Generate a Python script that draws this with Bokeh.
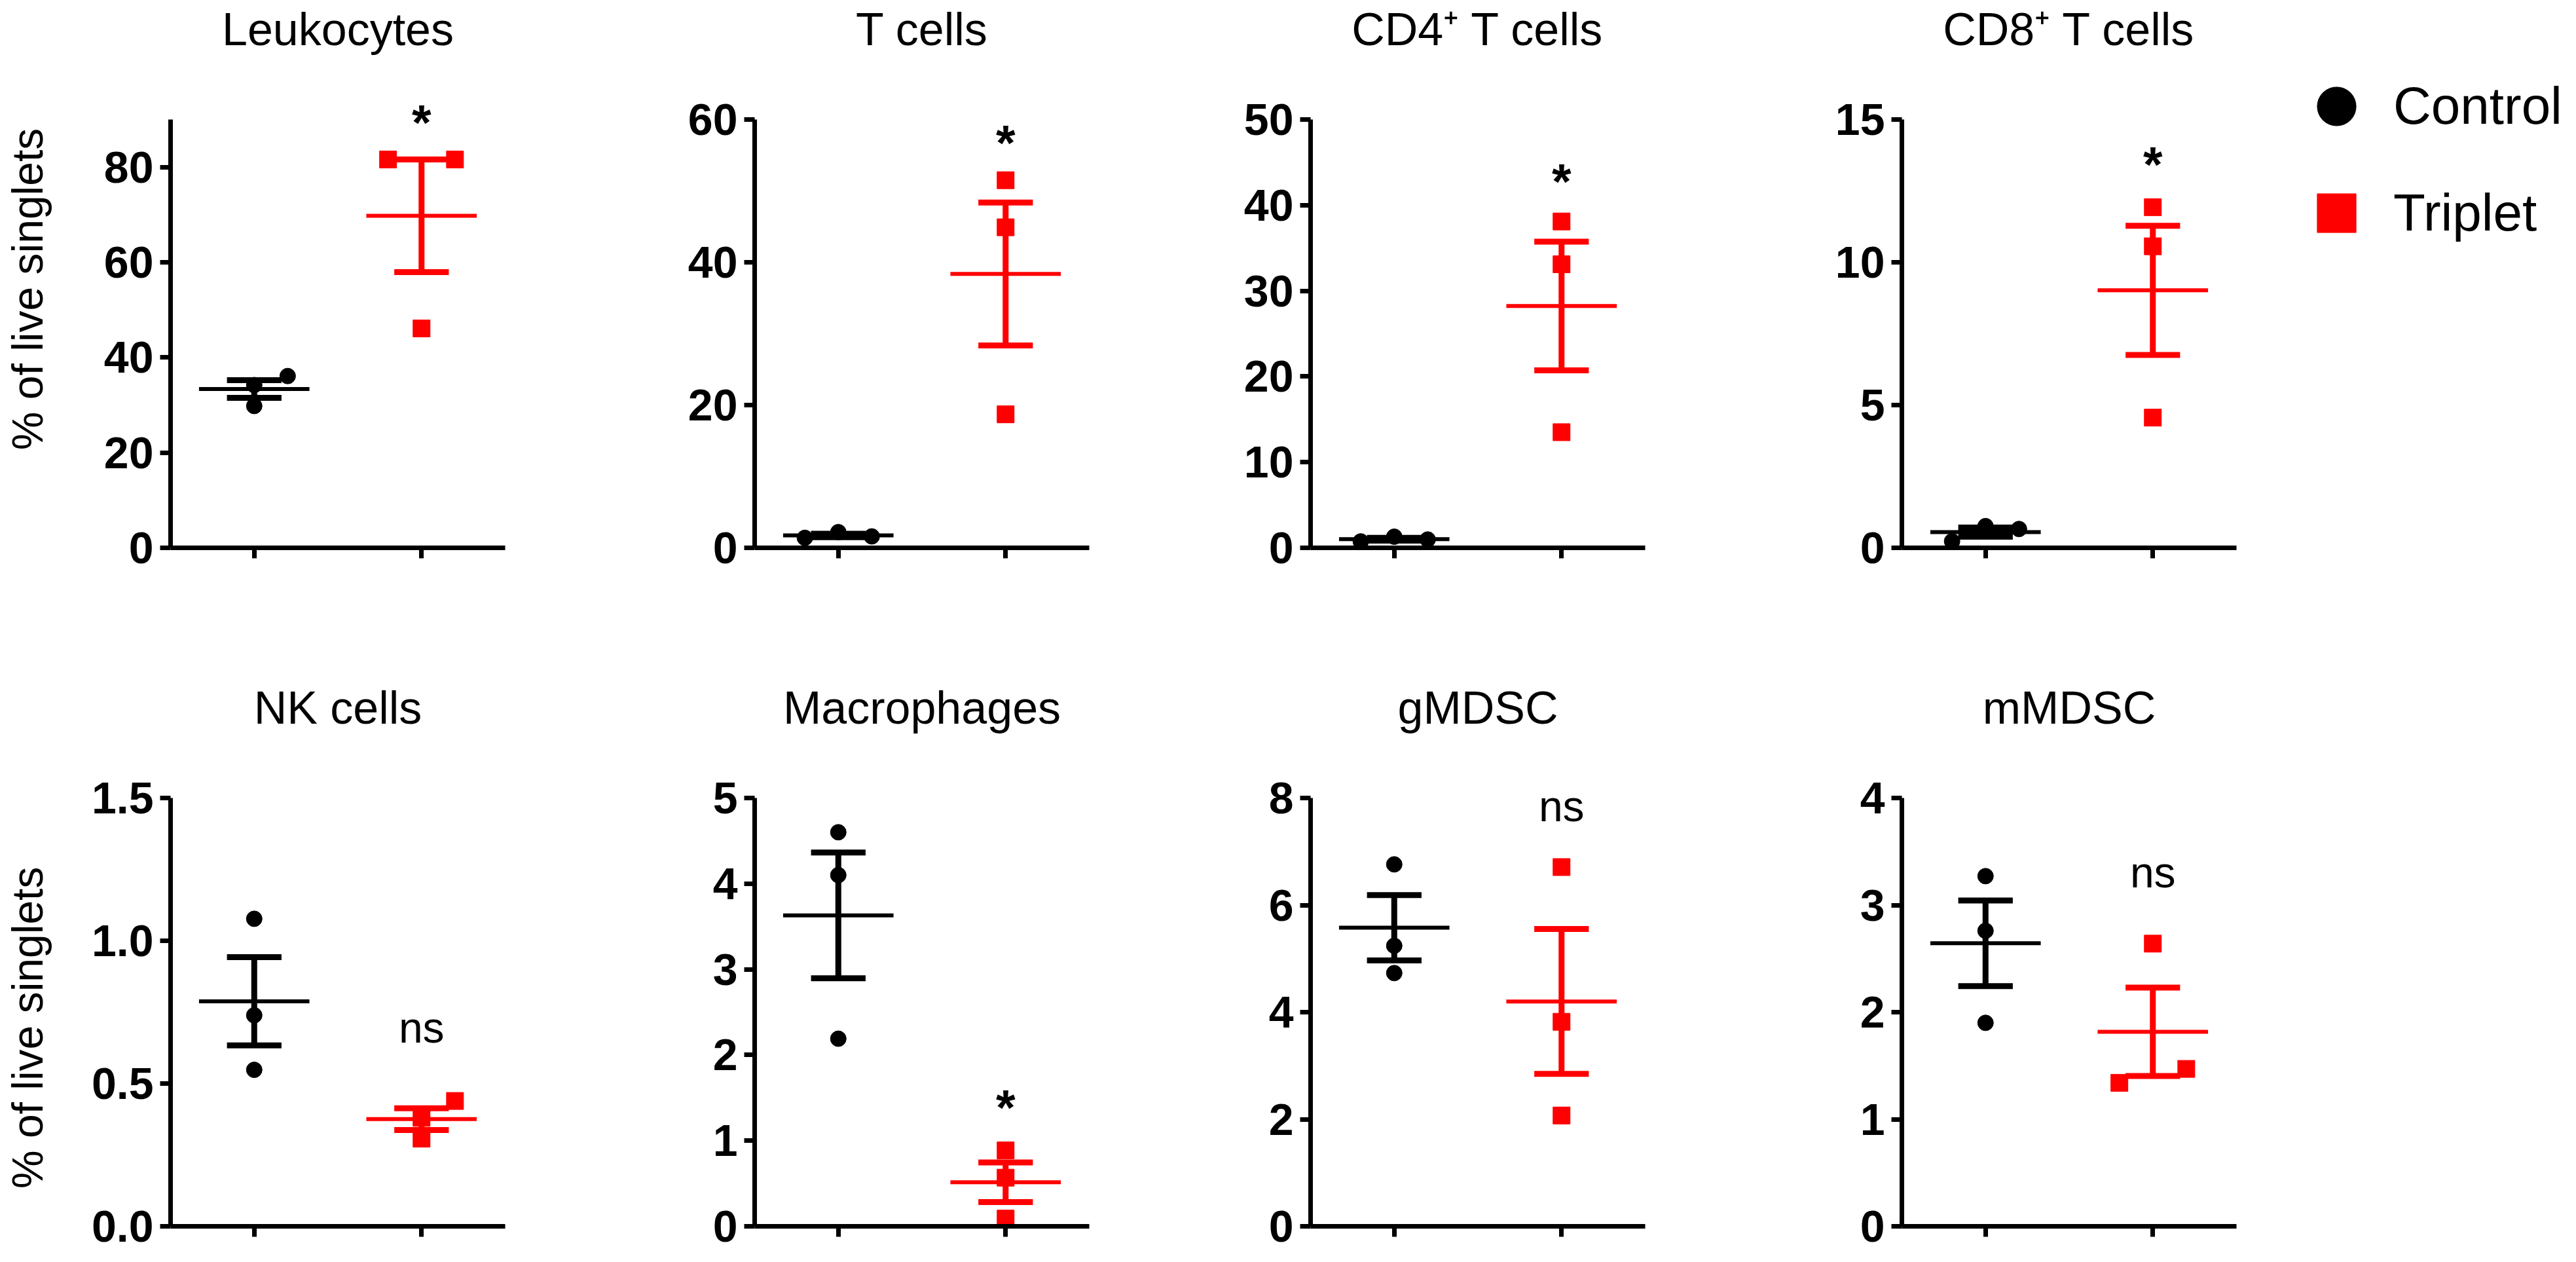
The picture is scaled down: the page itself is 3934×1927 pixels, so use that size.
import numpy as np
from bokeh.plotting import figure
from bokeh.layouts import column, row
from bokeh.models import FixedTicker, Legend, LegendItem
from bokeh.core.properties import value
from bokeh.embed import file_html
from bokeh.resources import INLINE

# ---------------- data ----------------
panel_titles = ["Leukocytes", "T cells", "CD4\u207a T cells", "CD8\u207a T cells",
                "NK cells", "Macrophages", "gMDSC", "mMDSC"]
groups = ["Control", "Triplet"]
group_x = [1, 2]
y_label = "% of live singlets"

y_tops = [90, 60, 50, 15, 1.5, 5, 8, 4]
y_ticks = [[0, 20, 40, 60, 80], [0, 20, 40, 60], [0, 10, 20, 30, 40, 50], [0, 5, 10, 15],
           [0, 0.5, 1.0, 1.5], [0, 1, 2, 3, 4, 5], [0, 2, 4, 6, 8], [0, 1, 2, 3, 4]]
y_tick_labels = [["0", "20", "40", "60", "80"], ["0", "20", "40", "60"],
                 ["0", "10", "20", "30", "40", "50"], ["0", "5", "10", "15"],
                 ["0.0", "0.5", "1.0", "1.5"], ["0", "1", "2", "3", "4", "5"],
                 ["0", "2", "4", "6", "8"], ["0", "1", "2", "3", "4"]]

control_values = [[29.8, 34.2, 36.1], [1.4, 2.2, 1.6], [0.75, 1.3, 0.97], [0.23, 0.76, 0.66],
                  [1.077, 0.739, 0.548], [4.6, 4.1, 2.19], [6.76, 5.24, 4.73], [3.27, 2.76, 1.9]]
control_jitter = [[0, 0, 0.2], [-0.2, 0, 0.2], [-0.2, 0, 0.2], [-0.2, 0, 0.2],
                  [0, 0, 0], [0, 0, 0], [0, 0, 0], [0, 0, 0]]
triplet_values = [[81.6, 81.6, 46.1], [51.5, 44.9, 18.7], [38.1, 33.1, 13.5], [11.93, 10.56, 4.56],
                  [0.439, 0.38, 0.307], [0.886, 0.568, 0.09], [6.71, 3.82, 2.07], [2.64, 1.34, 1.47]]
triplet_jitter = [[-0.2, 0.2, 0], [0, 0, 0], [0, 0, 0], [0, 0, 0],
                  [0.2, 0, 0], [0, 0, 0], [0, 0, 0], [0, -0.2, 0.2]]
sig_labels = ["*", "*", "*", "*", "ns", "*", "ns", "ns"]
sig_y = [91.6, 58.3, 44.0, 13.8, 0.683, 1.51, 7.77, 3.27]

# ---------------- geometry / style ----------------
FONT = "Liberation Sans"
AXIS_H = 654          # px from 0 to the top of the y axis
X_PX = 255.5          # px per category unit
LABEL_W = 120         # width of the strip holding the y-axis title
fig_widths = [892 - LABEL_W, 900, 900, 1224]
border_left = [260 - LABEL_W, 260, 209, 212]
frame_widths = [511, 511, 511, 1010]
row_heights = [980, 931]
border_top = [7, 52]
border_bottom = [144, 39]
ylabel_px = [323, 297]           # label centre height above the x axis (px)
ylabel_x = 41                    # label centre, px from the strip's left edge
TITLE_GAP = 138                  # title centre above the axis top (px)
colors = ["black", "#ff0000"]
markers = ["circle", "square"]
marker_sizes = [24, 26]


def label_strip(r):
    h = row_heights[r]
    s = figure(width=LABEL_W, height=h, x_range=(0, LABEL_W), y_range=(0, h),
               output_backend="svg", toolbar_location=None,
               x_axis_type=None, y_axis_type=None,
               min_border_left=0, min_border_right=0, min_border_top=0, min_border_bottom=0)
    s.outline_line_color = None
    s.grid.visible = False
    s.background_fill_color = "white"
    s.border_fill_color = "white"
    s.text(x=[ylabel_x], y=[border_bottom[r] + ylabel_px[r]], text=[y_label],
           angle=np.pi / 2, text_font=value(FONT), text_font_size="66px",
           text_color="black", text_align="center", text_baseline="middle")
    return s


figs = []
for i in range(8):
    r, c = divmod(i, 4)
    top = y_tops[i]
    frame_h = row_heights[r] - border_top[r] - border_bottom[r]
    ppu = AXIS_H / top
    y_end = frame_h / ppu
    x_end = 0.5 + frame_widths[c] / X_PX
    p = figure(width=fig_widths[c], height=row_heights[r],
               x_range=(0.5, x_end), y_range=(0, y_end),
               output_backend="svg", toolbar_location=None,
               min_border_left=border_left[c],
               min_border_right=fig_widths[c] - border_left[c] - frame_widths[c],
               min_border_top=border_top[r], min_border_bottom=border_bottom[r])
    p.outline_line_color = None
    p.grid.visible = False
    p.background_fill_color = "white"
    p.border_fill_color = "white"

    ya = p.yaxis[0]
    ya.bounds = (0, top)
    ya.ticker = FixedTicker(ticks=y_ticks[i])
    ya.major_label_overrides = {t: l for t, l in zip(y_ticks[i], y_tick_labels[i])}
    ya.minor_tick_line_color = None
    ya.major_tick_in = 0
    ya.major_tick_out = 16
    ya.major_tick_line_width = 7
    ya.axis_line_width = 7
    ya.axis_line_color = "black"
    ya.major_tick_line_color = "black"
    ya.major_label_text_font = FONT
    ya.major_label_text_font_style = "bold"
    ya.major_label_text_font_size = "68px"
    ya.major_label_text_color = "black"
    ya.major_label_standoff = 10

    xa = p.xaxis[0]
    xa.bounds = (0.5, 2.5)
    xa.ticker = FixedTicker(ticks=group_x)
    xa.major_label_overrides = {g: "" for g in group_x}
    xa.major_label_text_font_size = "0px"
    xa.major_label_standoff = 0
    xa.minor_tick_line_color = None
    xa.major_tick_in = 0
    xa.major_tick_out = 16
    xa.major_tick_line_width = 7
    xa.axis_line_width = 7
    xa.axis_line_color = "black"
    xa.major_tick_line_color = "black"

    renderers = []
    for g, vals, jit in ((0, control_values[i], control_jitter[i]),
                         (1, triplet_values[i], triplet_jitter[i])):
        gx = group_x[g]
        xs = [gx + j for j in jit]
        rr = p.scatter(xs, vals, marker=markers[g], size=marker_sizes[g],
                       fill_color=colors[g], line_color=colors[g], line_width=1)
        renderers.append(rr)
        arr = np.array(vals, dtype=float)
        m = float(arr.mean())
        s = float(arr.std(ddof=1) / np.sqrt(len(arr)))
        p.segment(x0=[gx - 0.33], x1=[gx + 0.33], y0=[m], y1=[m],
                  line_color=colors[g], line_width=6)
        p.segment(x0=[gx], x1=[gx], y0=[m - s], y1=[m + s],
                  line_color=colors[g], line_width=9)
        p.segment(x0=[gx - 0.163, gx - 0.163], x1=[gx + 0.163, gx + 0.163],
                  y0=[m + s, m - s], y1=[m + s, m - s],
                  line_color=colors[g], line_width=9)

    # panel title
    p.text(x=[1.5], y=[top + TITLE_GAP / ppu], text=[panel_titles[i]],
           text_font=value(FONT), text_font_size="70px", text_color="black",
           text_align="center", text_baseline="middle")
    # significance mark
    if sig_labels[i] == "*":
        p.text(x=[group_x[1]], y=[sig_y[i]], text=[sig_labels[i]],
               text_font=value(FONT), text_font_size="76px", text_font_style="bold",
               text_color="black", text_align="center", text_baseline="middle",
               y_offset=16)
    else:
        p.text(x=[group_x[1]], y=[sig_y[i]], text=[sig_labels[i]],
               text_font=value(FONT), text_font_size="66px", text_color="black",
               text_align="center", text_baseline="middle", y_offset=-6)

    if i == 3:
        legend = Legend(items=[LegendItem(label=groups[0], renderers=[renderers[0]]),
                               LegendItem(label=groups[1], renderers=[renderers[1]])],
                        location=(590, 437), glyph_width=148, glyph_height=148,
                        spacing=15, padding=0, margin=0, label_standoff=13,
                        label_text_font=FONT, label_text_font_size="80px",
                        label_text_color="black",
                        border_line_color=None, background_fill_alpha=0)
        p.add_layout(legend)
    figs.append(p)

layout = column(row(label_strip(0), *figs[:4], spacing=0),
                row(label_strip(1), *figs[4:], spacing=0), spacing=0)
open("out.html", "w").write(file_html(layout, INLINE))
